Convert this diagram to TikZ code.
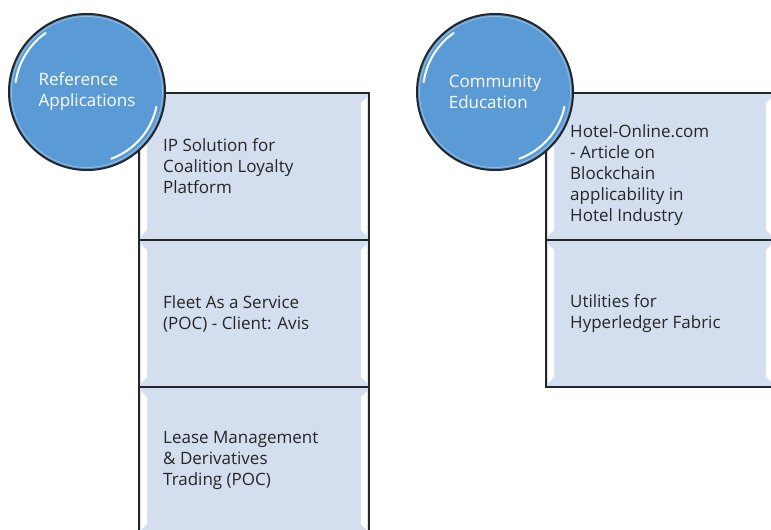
\documentclass[tikz,border=0pt]{standalone}
\usepackage{fontspec}
\setmainfont{Open Sans}
\usepackage{xcolor}
\usetikzlibrary{positioning}

\definecolor{boxfill}{HTML}{D3DFEE}
\definecolor{bubble}{HTML}{5B9BD5}
\definecolor{edge}{HTML}{262626}

\begin{document}
\begin{tikzpicture}[
  x=1pt, y=-1pt,
  bevel/.style={path picture={
    \fill[white] ([shift={(2pt,-4pt)}]path picture bounding box.north west) -- ++(6pt,-6pt)
      -- ([shift={(8pt,10pt)}]path picture bounding box.south west) -- ++(-6pt,-6pt) -- cycle;
    \fill[white] ([shift={(-2pt,-4pt)}]path picture bounding box.north east) -- ++(-6pt,-6pt)
      -- ([shift={(-8pt,10pt)}]path picture bounding box.south east) -- ++(6pt,-6pt) -- cycle;
  }},
  box/.style={rectangle, draw=edge, line width=2pt, fill=boxfill, minimum width=230pt,
    minimum height=147pt, inner sep=0pt, outer sep=0pt, bevel},
  item/.style={anchor=west, align=left, text=edge, inner sep=0pt,
    font=\fontsize{17}{21}\selectfont},
  hub/.style={circle, draw=edge, line width=2pt, fill=bubble, minimum size=156pt,
    inner sep=0pt, text=white, align=left, font=\fontsize{17}{21}\selectfont},
  gloss/.style={white, line width=2pt, line cap=round}
]
\useasboundingbox (0,0) rectangle (771,530);
\clip (0,0) rectangle (771,530);

% reference applications column
\node[box, anchor=north west] (ref1) at (139,93) {};
\node[box, below=0pt of ref1] (ref2) {};
\node[box, below=0pt of ref2] (ref3) {};

\node[item] (ref1txt) at ([xshift=24pt]ref1.west) {IP Solution for\\Coalition Loyalty\\Platform};
\node[item] (ref2txt) at ([xshift=24pt]ref2.west) {Fleet As a Service\\(POC) - Client: Avis};
\node[item] (ref3txt) at ([xshift=24pt]ref3.west) {Lease Management\\\& Derivatives\\Trading (POC)};

% community education column
\node[box, anchor=north west, minimum width=228pt] (edu1) at (546,93) {};
\node[box, minimum width=228pt, below=0pt of edu1] (edu2) {};

\node[item] (edu1txt) at ([xshift=24pt, yshift=-9pt]edu1.west) {Hotel-Online.com\\- Article on\\Blockchain\\applicability in\\Hotel Industry};
\node[item] (edu2txt) at ([xshift=24pt]edu2.west) {Utilities for\\Hyperledger Fabric};

% headings
\node[hub] (refhub) at (87,92) {Reference\\Applications};
\node[hub] (eduhub) at (495,92) {Community\\Education};

\foreach \h in {refhub, eduhub} {
  \draw[white, opacity=0.35, line width=0.8pt] (\h.center) circle[radius=75.5pt];
  \draw[gloss] (\h.center) ++(125:72pt) arc[start angle=125, end angle=172, radius=72pt];
  \draw[gloss] (\h.center) ++(-70:71pt) arc[start angle=-70, end angle=-12, radius=71pt];
}

\end{tikzpicture}
\end{document}
